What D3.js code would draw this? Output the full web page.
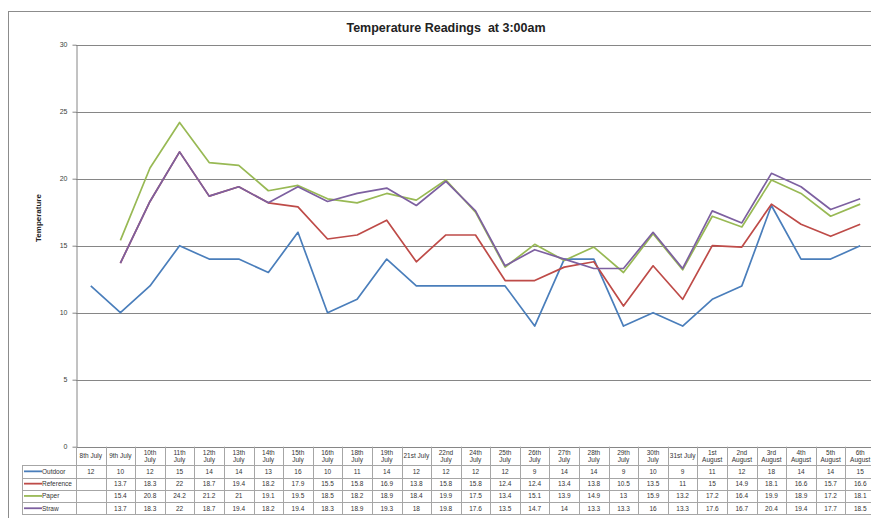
<!DOCTYPE html>
<html>
<head>
<meta charset="utf-8">
<script src="https://cdn.jsdelivr.net/npm/d3@7"></script>
<style>
  html, body { margin: 0; padding: 0; background: #fff; }
  svg { display: block; font-family: "Liberation Sans", Arial, sans-serif; }
</style>
</head>
<body>
<svg id="chart" width="871" height="518"></svg>
<script>
// Reading dates (x categories)
const dates = ["8th July", "9th July", "10th July", "11th July", "12th July", "13th July", "14th July",
  "15th July", "16th July", "18th July", "19th July", "21st July", "22nd July", "24th July",
  "25th July", "26th July", "27th July", "28th July", "29th July", "30th July", "31st July",
  "1st August", "2nd August", "3rd August", "4th August", "5th August", "6th August"];

// Header labels of the data table, "|" marks a line break
const headerLabels = ["8th July", "9th July", "10th|July", "11th|July", "12th|July", "13th|July", "14th|July",
  "15th|July", "16th|July", "18th|July", "19th|July", "21st July", "22nd|July", "24th|July",
  "25th|July", "26th|July", "27th|July", "28th|July", "29th|July", "30th|July", "31st July",
  "1st|August", "2nd|August", "3rd|August", "4th|August", "5th|August", "6th|August"];

// Temperatures at 3:00am for each location
const outdoor   = [12, 10, 12, 15, 14, 14, 13, 16, 10, 11, 14, 12, 12, 12, 12, 9, 14, 14, 9, 10, 9, 11, 12, 18, 14, 14, 15];
const reference = [null, 13.7, 18.3, 22, 18.7, 19.4, 18.2, 17.9, 15.5, 15.8, 16.9, 13.8, 15.8, 15.8, 12.4, 12.4, 13.4, 13.8, 10.5, 13.5, 11, 15, 14.9, 18.1, 16.6, 15.7, 16.6];
const paper     = [null, 15.4, 20.8, 24.2, 21.2, 21, 19.1, 19.5, 18.5, 18.2, 18.9, 18.4, 19.9, 17.5, 13.4, 15.1, 13.9, 14.9, 13, 15.9, 13.2, 17.2, 16.4, 19.9, 18.9, 17.2, 18.1];
const straw     = [null, 13.7, 18.3, 22, 18.7, 19.4, 18.2, 19.4, 18.3, 18.9, 19.3, 18, 19.8, 17.6, 13.5, 14.7, 14, 13.3, 13.3, 16, 13.3, 17.6, 16.7, 20.4, 19.4, 17.7, 18.5];

const seriesNames = ["Outdoor", "Reference", "Paper", "Straw"];
const yTicks = [0, 5, 10, 15, 20, 25, 30];

const series = [
  { name: seriesNames[0], values: outdoor,   color: "#4a7ebb" },
  { name: seriesNames[1], values: reference, color: "#be4b48" },
  { name: seriesNames[2], values: paper,     color: "#98b954" },
  { name: seriesNames[3], values: straw,     color: "#7d60a0" }
];

const svg = d3.select("#chart");
const plot = { left: 76, top: 44.7, right: 875, bottom: 446.7 };

const x = d3.scaleBand().domain(dates).range([plot.left, plot.right]).paddingInner(0).paddingOuter(0);
const y = d3.scaleLinear().domain([0, 30]).range([plot.bottom, plot.top]);

// Outer chart frame
svg.append("rect")
  .attr("x", 8.5).attr("y", 11.5).attr("width", 900).attr("height", 600)
  .attr("fill", "#fff").attr("stroke", "#8c8c8c").attr("stroke-width", 1);

// Title
svg.append("text")
  .attr("x", 446).attr("y", 32)
  .attr("text-anchor", "middle")
  .attr("font-weight", "bold")
  .attr("font-size", 12.5)
  .attr("fill", "#222")
  .attr("xml:space", "preserve")
  .text("Temperature Readings  at 3:00am");

// Horizontal gridlines
svg.append("g")
  .selectAll("line")
  .data(yTicks.filter(d => d > 0))
  .join("line")
  .attr("x1", plot.left).attr("x2", 871)
  .attr("y1", d => Math.round(y(d)) + 0.5).attr("y2", d => Math.round(y(d)) + 0.5)
  .attr("stroke", "#868686").attr("stroke-width", 1);

// Y axis
const yAxis = svg.append("g")
  .attr("transform", `translate(${plot.left + 0.5},0)`)
  .call(d3.axisLeft(y).tickValues(yTicks).tickSize(4).tickPadding(5).tickSizeOuter(0));
yAxis.select(".domain").attr("stroke", "#868686");
yAxis.selectAll(".tick line").attr("stroke", "#868686");
yAxis.selectAll(".tick text")
  .attr("font-size", 7).attr("fill", "#404040")
  .attr("font-family", "'Liberation Sans', Arial, sans-serif");

// Y axis title
svg.append("text")
  .attr("transform", "translate(41,218) rotate(-90)")
  .attr("text-anchor", "middle")
  .attr("font-weight", "bold")
  .attr("font-size", 8)
  .attr("fill", "#222")
  .text("Temperature");

// Lines
const line = d3.line()
  .defined(d => d != null)
  .x((d, i) => x(dates[i]) + x.bandwidth() / 2)
  .y(d => y(d));

svg.append("g")
  .selectAll("path")
  .data(series)
  .join("path")
  .attr("d", s => line(s.values))
  .attr("fill", "none")
  .attr("stroke", s => s.color)
  .attr("stroke-width", 1.7)
  .attr("stroke-linejoin", "round");

// Data table below the axis
const tbl = { top: 446.7, headerH: 18.5, rowH: 12.3, labelLeft: 22 };
const border = "#a6a6a6";
const tg = svg.append("g").attr("font-size", 6.5).attr("fill", "#333");
const rowsBottom = tbl.top + tbl.headerH + tbl.rowH * series.length;

// axis baseline
tg.append("line")
  .attr("x1", plot.left).attr("x2", 871)
  .attr("y1", Math.round(tbl.top) + 0.5).attr("y2", Math.round(tbl.top) + 0.5)
  .attr("stroke", "#868686");

// column separators
const edges = dates.map(d => x(d)).concat([plot.right]);
tg.append("g").selectAll("line")
  .data(edges)
  .join("line")
  .attr("x1", d => Math.round(d) + 0.5).attr("x2", d => Math.round(d) + 0.5)
  .attr("y1", tbl.top).attr("y2", rowsBottom)
  .attr("stroke", border);

// row separators
const rowLines = d3.range(series.length + 1).map(i => tbl.top + tbl.headerH + i * tbl.rowH);
tg.append("g").selectAll("line")
  .data(rowLines)
  .join("line")
  .attr("x1", tbl.labelLeft).attr("x2", 871)
  .attr("y1", d => Math.round(d) + 0.5).attr("y2", d => Math.round(d) + 0.5)
  .attr("stroke", border);
tg.append("line")
  .attr("x1", tbl.labelLeft + 0.5).attr("x2", tbl.labelLeft + 0.5)
  .attr("y1", tbl.top + tbl.headerH).attr("y2", rowsBottom)
  .attr("stroke", border);

// header labels
tg.append("g").selectAll("text")
  .data(dates)
  .join("text")
  .attr("text-anchor", "middle")
  .each(function (d, i) {
    const t = d3.select(this);
    const cx = x(d) + x.bandwidth() / 2;
    const cy = tbl.top + tbl.headerH / 2;
    const parts = headerLabels[i].split("|");
    if (parts.length > 1) {
      t.append("tspan").attr("x", cx).attr("y", cy - 1.2).text(parts[0]);
      t.append("tspan").attr("x", cx).attr("y", cy + 6.3).text(parts[1]);
    } else {
      t.attr("x", cx).attr("y", cy + 2.3).text(parts[0]);
    }
  });

// series rows
series.forEach((s, r) => {
  const cy = tbl.top + tbl.headerH + r * tbl.rowH + tbl.rowH / 2;
  tg.append("line")
    .attr("x1", 24).attr("x2", 42)
    .attr("y1", cy).attr("y2", cy)
    .attr("stroke", s.color).attr("stroke-width", 1.8);
  tg.append("text")
    .attr("x", 42).attr("y", cy + 2.3)
    .text(s.name);
  tg.append("g").selectAll("text")
    .data(s.values.map((v, i) => ({ v, d: dates[i] })).filter(o => o.v != null))
    .join("text")
    .attr("text-anchor", "middle")
    .attr("x", o => x(o.d) + x.bandwidth() / 2)
    .attr("y", cy + 2.3)
    .text(o => o.v);
});
</script>
</body>
</html>
